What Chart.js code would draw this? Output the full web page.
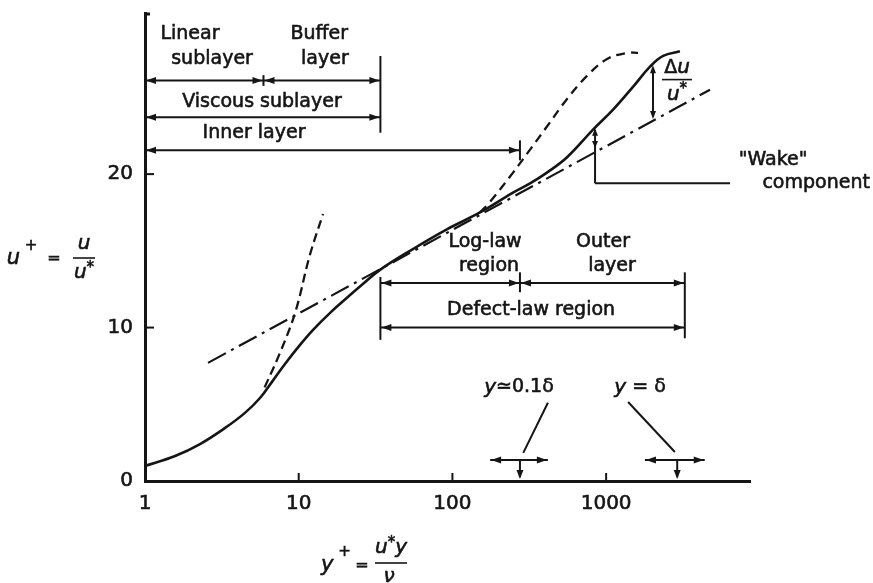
<!DOCTYPE html>
<html>
<head>
<meta charset="utf-8">
<script src="https://cdn.jsdelivr.net/npm/chart.js@4.4.1/dist/chart.umd.min.js"></script>
<style>
  body{margin:0;background:#fff;}
  canvas{display:block;}
</style>
</head>
<body>
<canvas id="wallChart" width="873" height="583"></canvas>
<script>
/* mean velocity profile u+ against y+ */
const profileX = [1, 1.57, 2.28, 3.32, 4.47, 5.6, 6.7, 8.14, 10.2, 12.4, 16, 20.6, 25.8, 33.8, 55, 92, 151, 248, 320, 412, 557, 822, 1110, 1500, 1930, 2350, 3020];
const profileY = [0.98, 1.63, 2.41, 3.46, 4.44, 5.41, 6.46, 7.63, 8.87, 9.85, 10.96, 11.94, 12.79, 13.76, 15.1, 16.4, 17.5, 18.8, 19.4, 20.1, 21.1, 22.9, 24.2, 25.7, 27.0, 27.7, 28.0];

/* u+ = y+ near the wall (dashed) */
const linearX = [6.0, 7.55, 9.5, 11.8, 14.4];
const linearY = [6.1, 8.35, 11.0, 14.7, 17.4];

/* log law (dash-dot) */
const logLawX = [2.57, 4740];
const logLawY = [7.7, 25.5];

/* profile with stronger wake (dashed) */
const wakeX = [151, 176, 248, 320, 412, 557, 751, 1014, 1368, 1614];
const wakeY = [17.5, 18.2, 20.1, 21.6, 23.1, 24.9, 26.4, 27.5, 27.9, 27.9];

const xTicks = [1, 10, 100, 1000];
const yTicks = [0, 10, 20];

/* layer limits in y+ */
const linearEdge = 5.9;
const bufferEdge = 34;
const logEdge = 275;
const outerEdge = 3250;
const deltaMark = 2900;

const ink = '#151515';
const txt = '19px "DejaVu Sans"';
const ital = 'italic 20px "DejaVu Sans"';

const pts = (xs, ys) => xs.map((v, i) => ({x: v, y: ys[i]}));

function line(ctx, x1, y1, x2, y2) {
  ctx.beginPath();
  ctx.moveTo(x1, y1);
  ctx.lineTo(x2, y2);
  ctx.stroke();
}

// filled arrow head, tip at (tx,ty), pointing along ang
function head(ctx, tx, ty, ang, len = 10, w = 3.5) {
  const c = Math.cos(ang), s = Math.sin(ang);
  ctx.beginPath();
  ctx.moveTo(tx, ty);
  ctx.lineTo(tx - len * c + w * s, ty - len * s - w * c);
  ctx.lineTo(tx - len * c - w * s, ty - len * s + w * c);
  ctx.closePath();
  ctx.fill();
}

// filled + lightly stroked text so it reads as heavy as the print
function ink_text(ctx, s, x, y) {
  ctx.fillText(s, x, y);
  ctx.save();
  ctx.lineWidth = 0.6;
  ctx.strokeText(s, x, y);
  ctx.restore();
}

// text made of several runs, centred on cx
function runs(ctx, cx, cy, parts) {
  let w = 0;
  parts.forEach(p => { ctx.font = p[1]; w += ctx.measureText(p[0]).width; });
  let xx = cx - w / 2;
  ctx.textAlign = 'left';
  parts.forEach(p => {
    ctx.font = p[1];
    ink_text(ctx, p[0], xx, cy + (p[2] || 0));
    xx += ctx.measureText(p[0]).width;
  });
}

const layerNotes = {
  id: 'layerNotes',
  afterDraw(chart) {
    const {ctx, chartArea: a, scales: {x, y}} = chart;
    const px = v => x.getPixelForValue(v);
    const py = v => y.getPixelForValue(v);
    const L = (x1, u1, x2, u2) => line(ctx, px(x1), py(u1), px(x2), py(u2));
    const span = (x1, x2, u) => {
      L(x1, u, x2, u);
      head(ctx, px(x1) + 1, py(u), Math.PI);
      head(ctx, px(x2) - 1, py(u), 0);
    };
    const label = (s, xv, uv) => {
      ctx.font = txt;
      ctx.textAlign = 'center';
      ink_text(ctx, s, px(xv), py(uv));
    };

    ctx.save();
    ctx.strokeStyle = ink;
    ctx.fillStyle = ink;
    ctx.lineWidth = 2;
    ctx.textBaseline = 'middle';

    // axis ticks drawn inward
    xTicks.slice(1).forEach(v => line(ctx, px(v), a.bottom, px(v), a.bottom - 8));
    yTicks.slice(1).forEach(v => line(ctx, a.left, py(v), a.left + 9, py(v)));
    ctx.lineWidth = 3;
    line(ctx, a.left - 1, a.top + 1, a.left + 5, a.top + 1);
    ctx.lineWidth = 2;

    // inner layer brackets
    span(1, linearEdge, 26.1);
    span(linearEdge, bufferEdge, 26.1);
    L(linearEdge, 26.45, linearEdge, 25.75);
    L(bufferEdge, 27.7, bufferEdge, 22.7);
    span(1, bufferEdge, 23.7);
    span(1, logEdge, 21.55);
    L(logEdge, 22.2, logEdge, 20.9);

    label('Linear', 1.96, 29.1);
    label('sublayer', 2.73, 27.5);
    label('Buffer', 13.6, 29.1);
    label('layer', 14.8, 27.5);
    label('Viscous sublayer', 5.77, 24.7);
    label('Inner layer', 5.12, 22.7);

    // outer brackets
    L(bufferEdge, 13.3, bufferEdge, 9.2);
    L(outerEdge, 13.6, outerEdge, 9.3);
    span(bufferEdge, logEdge, 12.9);
    span(logEdge, outerEdge, 12.9);
    L(logEdge, 13.6, logEdge, 12.3);
    span(bufferEdge, outerEdge, 10.0);

    label('Log-law', 163, 15.6);
    label('region', 173, 14.0);
    label('Outer', 955, 15.6);
    label('layer', 1092, 14.0);
    label('Defect-law region', 325, 11.15);

    // markers for y = 0.1 delta and y = delta
    const marker = (xc, xl, xr, lx1, lu1, lx2, lu2) => {
      span(xl, xr, 1.37);
      L(xc, 1.37, xc, 0.25);
      head(ctx, px(xc), py(0) - 2, Math.PI / 2, 9, 3.5);
      L(lx1, lu1, lx2, lu2);
    };
    marker(logEdge, 176, 418, 418, 5.1, 289, 1.83);
    marker(deltaMark, 1788, 4380, 1390, 5.15, 2800, 1.89);

    runs(ctx, px(271), py(6.1), [['y', ital], ['\u22430.1\u03b4', txt]]);
    runs(ctx, px(1662), py(6.1), [['y', ital], [' = \u03b4', txt]]);

    // wake component leader
    L(847, 22.9, 847, 19.4);
    L(847, 19.4, 6400, 19.4);
    head(ctx, px(847), py(22.95), -Math.PI / 2, 7, 3);
    head(ctx, px(847), py(21.7), Math.PI / 2, 7, 3);
    label('"Wake"', 12190, 20.94);
    label('component', 23250, 19.44);

    // delta u / u*
    L(2018, 26.9, 2018, 23.8);
    head(ctx, px(2018), py(27.1), -Math.PI / 2, 8, 3);
    head(ctx, px(2018), py(23.6), Math.PI / 2, 8, 3);
    const dx = px(2018) + 24;
    runs(ctx, dx, py(26.9), [['\u0394', txt], ['u', ital]]);
    ctx.lineWidth = 1.6;
    line(ctx, dx - 15, py(26.16), dx + 15, py(26.16));
    runs(ctx, dx, py(25.2), [['u', ital], ['*', '15px "DejaVu Sans"', -5]]);

    // axis titles
    ctx.lineWidth = 1.6;
    const ty = 259;
    runs(ctx, 22, ty, [['u', 'italic 21px "DejaVu Sans"'], [' +', '15px "DejaVu Sans"', -13]]);
    runs(ctx, 54, ty, [['=', '16px "DejaVu Sans"']]);
    runs(ctx, 84, ty - 15, [['u', ital]]);
    line(ctx, 73, ty - 1, 95, ty - 1);
    runs(ctx, 84, ty + 14, [['u', ital], ['*', '15px "DejaVu Sans"', -5]]);

    const tx = 566;
    runs(ctx, 336, tx, [['y', 'italic 21px "DejaVu Sans"'], [' +', '15px "DejaVu Sans"', -14]]);
    runs(ctx, 362, tx, [['=', '16px "DejaVu Sans"']]);
    runs(ctx, 391, tx - 18, [['u', ital], ['*', '15px "DejaVu Sans"', -5], ['y', ital]]);
    line(ctx, 375, tx - 3, 407, tx - 3);
    runs(ctx, 389, tx + 11, [['\u03bd', ital]]);

    ctx.restore();
  }
};

// drop the label overhang padding so the plot box is set by layout only
const noOverhang = s => {
  s.paddingTop = 0;
  s.paddingBottom = 0;
  s.paddingLeft = 0;
  s.paddingRight = 0;
};

new Chart(document.getElementById('wallChart'), {
  type: 'line',
  data: {
    datasets: [
      {data: pts(profileX, profileY), borderWidth: 2.6},
      {data: pts(linearX, linearY), borderDash: [9, 5], borderWidth: 2.3},
      {data: pts(logLawX, logLawY), borderDash: [20, 6, 3, 6], borderWidth: 2.2},
      {data: pts(wakeX, wakeY), borderDash: [9, 6], borderWidth: 2.3}
    ].map(d => Object.assign({
      borderColor: ink,
      pointRadius: 0,
      fill: false,
      tension: 0.4
    }, d))
  },
  options: {
    responsive: false,
    animation: false,
    devicePixelRatio: 1,
    layout: {padding: {left: 0, right: 123, top: 13, bottom: 0}},
    plugins: {legend: {display: false}, tooltip: {enabled: false}},
    scales: {
      x: {
        type: 'logarithmic',
        min: 1,
        max: 8630,
        grid: {display: false, drawTicks: false},
        border: {display: true, width: 3, color: ink},
        afterBuildTicks: s => { s.ticks = xTicks.map(v => ({value: v})); },
        afterFit: s => { s.height = 102; noOverhang(s); },
        ticks: {
          autoSkip: false,
          maxRotation: 0,
          padding: 11,
          color: ink,
          textStrokeColor: ink,
          textStrokeWidth: 0.6,
          font: {family: 'DejaVu Sans', size: 20},
          callback: v => String(v)
        }
      },
      y: {
        min: 0,
        max: 30.5,
        grid: {display: false, drawTicks: false},
        border: {display: true, width: 3, color: ink},
        afterBuildTicks: s => { s.ticks = yTicks.map(v => ({value: v})); },
        afterFit: s => { s.width = 145; noOverhang(s); },
        ticks: {
          padding: 12,
          color: ink,
          textStrokeColor: ink,
          textStrokeWidth: 0.6,
          font: {family: 'DejaVu Sans', size: 20},
          callback: v => String(v)
        }
      }
    }
  },
  plugins: [layerNotes]
});
</script>
</body>
</html>
